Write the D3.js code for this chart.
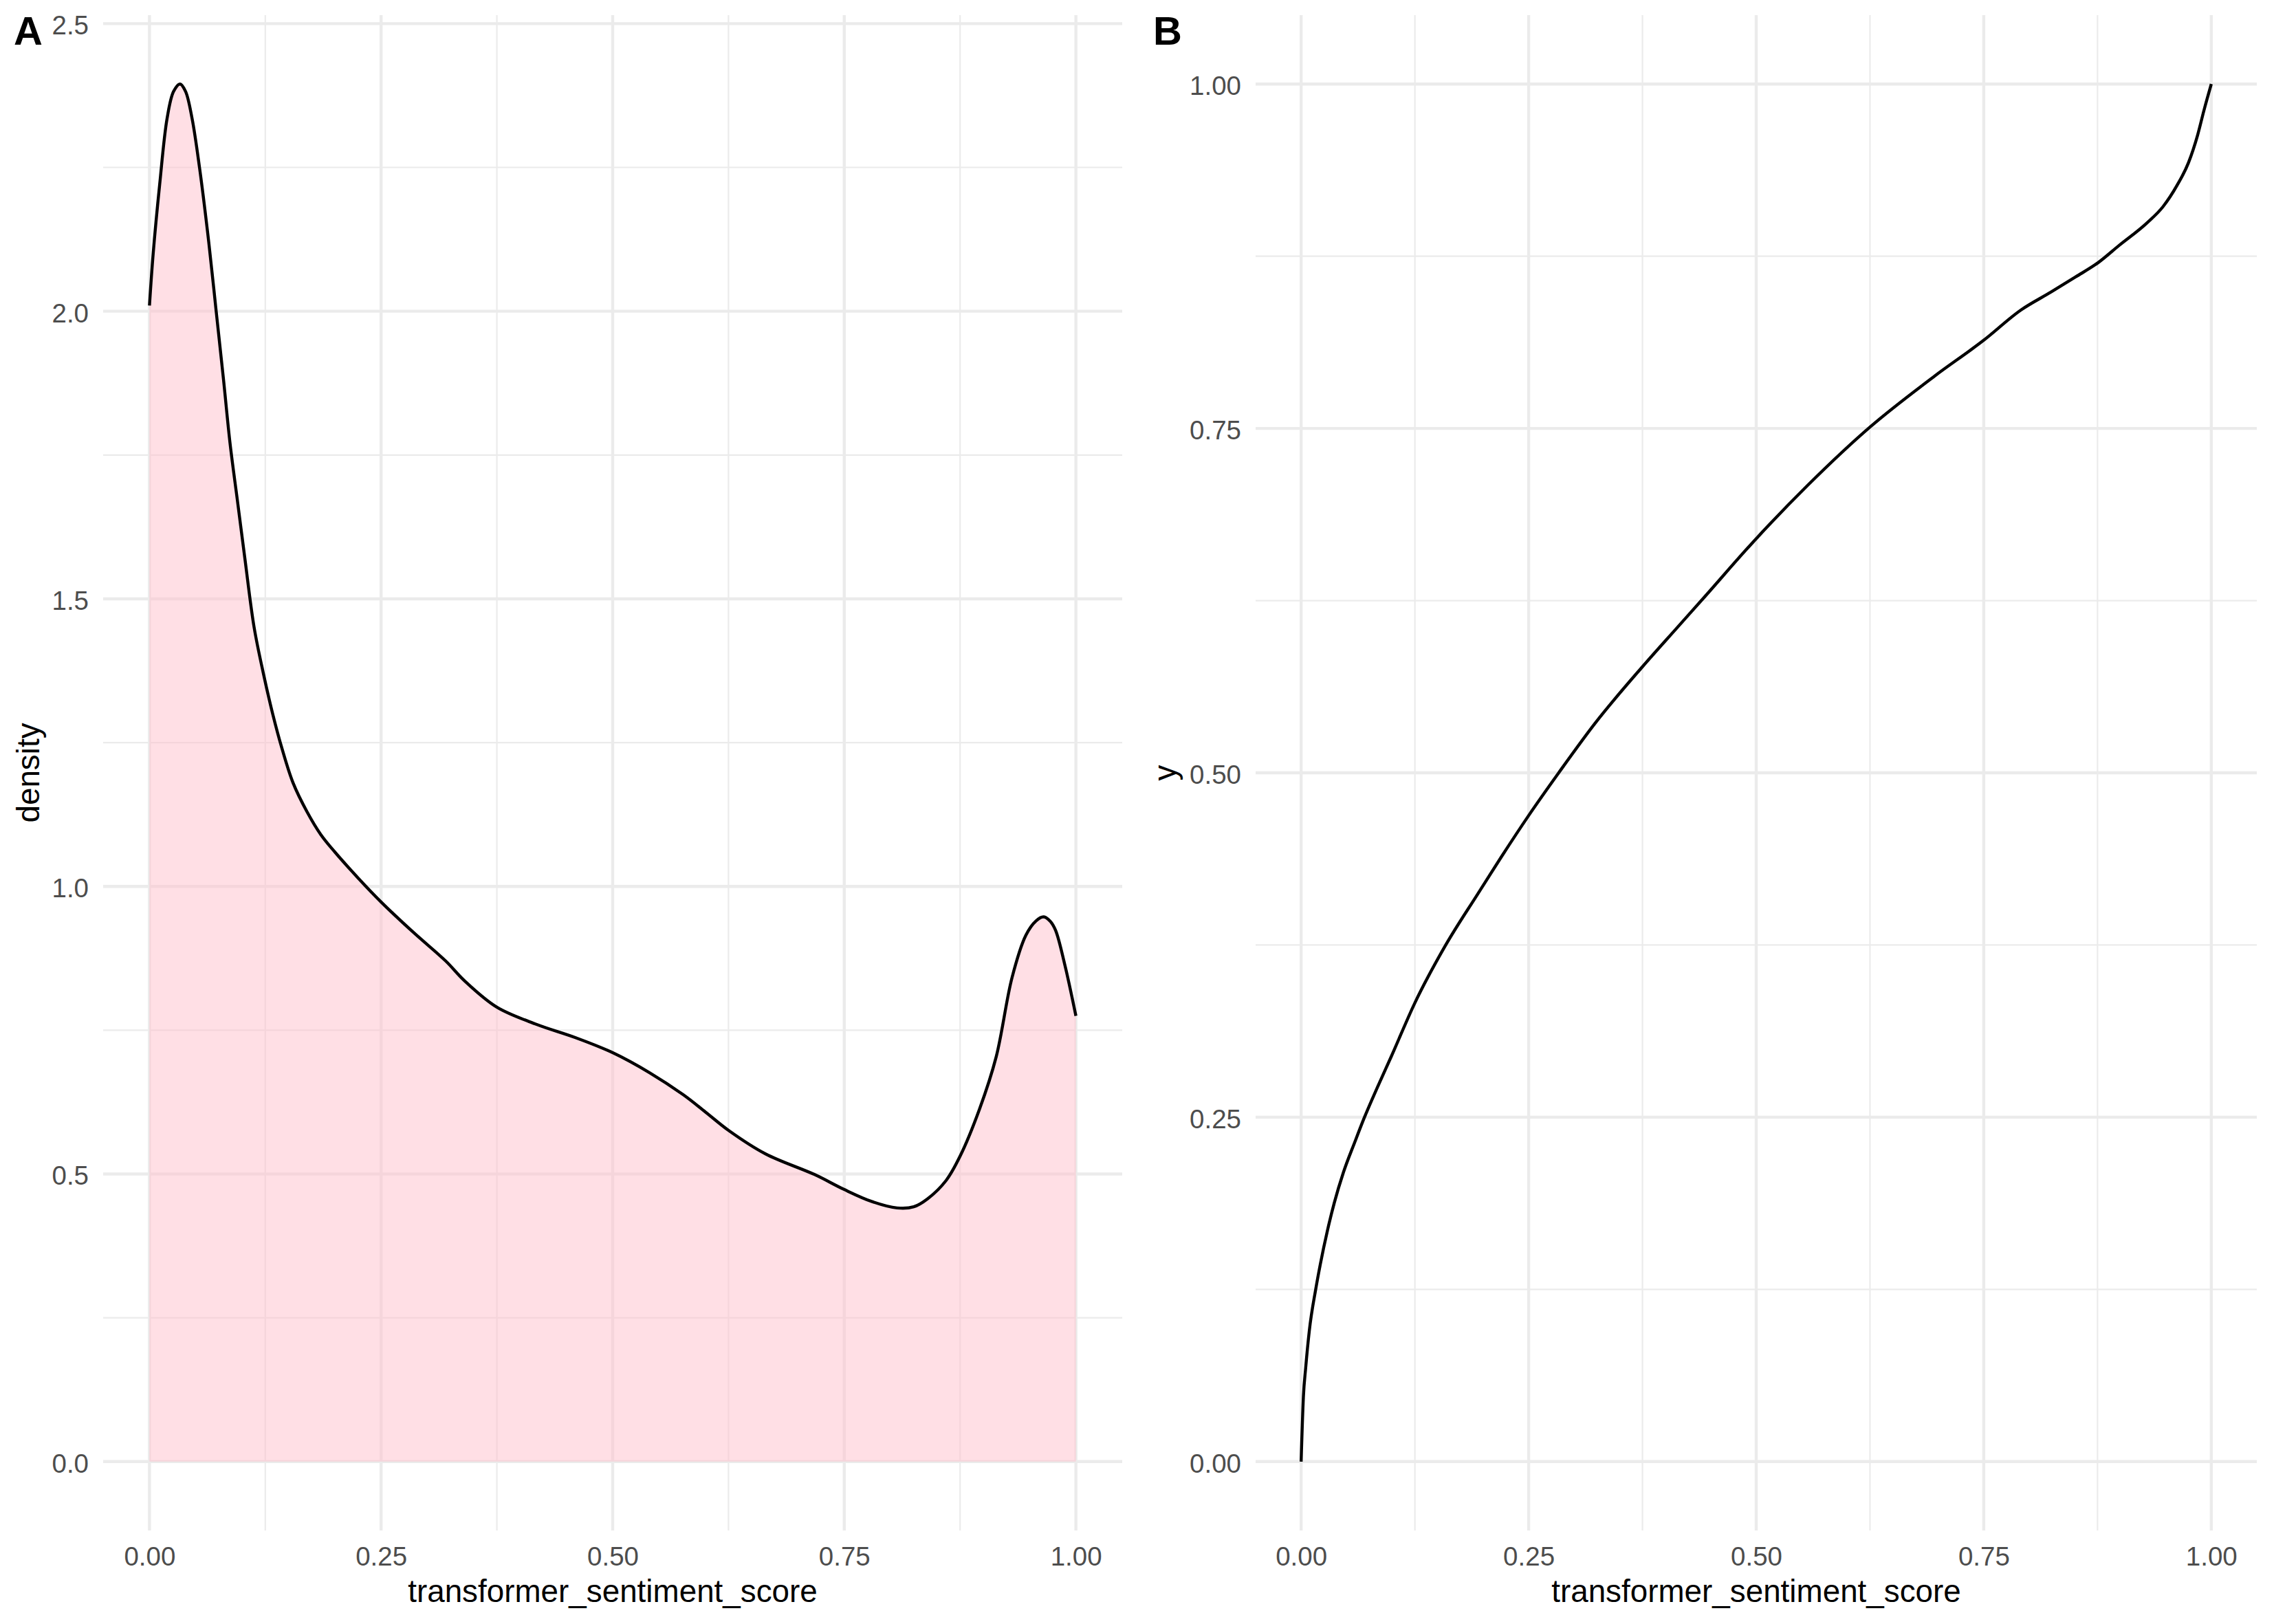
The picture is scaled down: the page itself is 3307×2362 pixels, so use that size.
<!DOCTYPE html>
<html>
<head>
<meta charset="utf-8">
<script src="https://cdn.jsdelivr.net/npm/d3@7"></script>
<style>
  body { margin: 0; background: #fff; }
  svg { display: block; }
</style>
</head>
<body>
<div id="chart"></div>
<script>
// data
// panel A: kernel density of the score
const densX = [0, 0.004, 0.011, 0.019, 0.026, 0.033, 0.039, 0.046, 0.054, 0.064, 0.072, 0.08, 0.087, 0.095,
  0.103, 0.113, 0.123, 0.133, 0.143, 0.155, 0.17, 0.185, 0.2, 0.225, 0.25, 0.285, 0.32, 0.34, 0.375, 0.418,
  0.46, 0.5, 0.54, 0.576, 0.6, 0.625, 0.665, 0.718, 0.75, 0.78, 0.807, 0.825, 0.84, 0.86, 0.875, 0.896,
  0.914, 0.931, 0.946, 0.957, 0.965, 0.972, 0.978, 0.988, 1.0];
const densY = [2.01, 2.10, 2.22, 2.335, 2.382, 2.395, 2.382, 2.335, 2.25, 2.12, 2.0, 1.88, 1.77, 1.67,
  1.57, 1.45, 1.37, 1.30, 1.24, 1.18, 1.13, 1.09, 1.06, 1.015, 0.973, 0.92, 0.87, 0.836, 0.79, 0.76,
  0.737, 0.711, 0.676, 0.638, 0.608, 0.576, 0.535, 0.499, 0.473, 0.452, 0.441, 0.443, 0.457, 0.489, 0.531, 0.613,
  0.704, 0.841, 0.915, 0.94, 0.947, 0.94, 0.924, 0.864, 0.775];

// panel B: cumulative curve
const cumX = [0, 0.0025, 0.005, 0.009, 0.016, 0.021, 0.029, 0.0365, 0.0465, 0.059, 0.069, 0.084, 0.099, 0.125,
  0.158, 0.194, 0.22, 0.25, 0.283, 0.323, 0.375, 0.414, 0.441, 0.5, 0.557, 0.625, 0.696, 0.75, 0.791, 0.824,
  0.851, 0.875, 0.899, 0.929, 0.947, 0.962, 0.975, 0.985, 0.992, 1.0];
const cumY = [0, 0.047, 0.068, 0.095, 0.125, 0.143, 0.168, 0.188, 0.21, 0.232, 0.249, 0.272, 0.294, 0.333,
  0.374, 0.412, 0.439, 0.469, 0.5, 0.536, 0.577, 0.606, 0.626, 0.67, 0.709, 0.751, 0.788, 0.814, 0.836, 0.849,
  0.86, 0.87, 0.883, 0.899, 0.911, 0.926, 0.943, 0.963, 0.981, 1.0];

const xTicks = [0, 0.25, 0.5, 0.75, 1];
const xMinor = [0.125, 0.375, 0.625, 0.875];
const yTicksA = [0, 0.5, 1, 1.5, 2, 2.5];
const yMinorA = [0.25, 0.75, 1.25, 1.75, 2.25];
const yTicksB = [0, 0.25, 0.5, 0.75, 1];
const yMinorB = [0.125, 0.375, 0.625, 0.875];

const width = 3307;
const height = 2362;

const svg = d3.select("#chart").append("svg")
  .attr("width", width)
  .attr("height", height);

const fontFam = "'Liberation Sans', Arial, sans-serif";
const gridCol = "#EBEBEB";

// ggplot-like expansion (5% each side)
function expand(lo, hi) {
  const r = hi - lo;
  return [lo - 0.05 * r, hi + 0.05 * r];
}

const panelTop = 22;
const panelBottom = 2226;

function drawGrid(g, x, y, xMaj, xMin, yMaj, yMin) {
  const [x0, x1] = x.range();
  const [y0, y1] = y.range();
  g.append("g").selectAll("line").data(yMin).enter().append("line")
    .attr("x1", x0).attr("x2", x1)
    .attr("y1", d => y(d)).attr("y2", d => y(d))
    .attr("stroke", gridCol).attr("stroke-width", 2.2);
  g.append("g").selectAll("line").data(xMin).enter().append("line")
    .attr("y1", y0).attr("y2", y1)
    .attr("x1", d => x(d)).attr("x2", d => x(d))
    .attr("stroke", gridCol).attr("stroke-width", 2.2);
  g.append("g").selectAll("line").data(yMaj).enter().append("line")
    .attr("x1", x0).attr("x2", x1)
    .attr("y1", d => y(d)).attr("y2", d => y(d))
    .attr("stroke", gridCol).attr("stroke-width", 4.4);
  g.append("g").selectAll("line").data(xMaj).enter().append("line")
    .attr("y1", y0).attr("y2", y1)
    .attr("x1", d => x(d)).attr("x2", d => x(d))
    .attr("stroke", gridCol).attr("stroke-width", 4.4);
}

function drawAxes(g, x, y, xMaj, yMaj, yFmt, yTitle, yTitleX) {
  const xAxisG = g.append("g")
    .attr("transform", `translate(0,${panelBottom})`)
    .call(d3.axisBottom(x).tickValues(xMaj).tickFormat(d3.format(".2f")).tickSize(0).tickPadding(24));
  const yAxisG = g.append("g")
    .attr("transform", `translate(${x.range()[0]},0)`)
    .call(d3.axisLeft(y).tickValues(yMaj).tickFormat(d3.format(yFmt)).tickSize(0).tickPadding(21));
  [xAxisG, yAxisG].forEach(a => {
    a.select(".domain").remove();
    a.attr("font-family", fontFam).attr("font-size", 38.5);
    a.selectAll("text").attr("fill", "#4D4D4D");
  });
  yAxisG.selectAll("text").attr("dy", "0.4em");

  const [xa, xb] = x.range();
  g.append("text")
    .attr("x", (xa + xb) / 2)
    .attr("y", 2330)
    .attr("text-anchor", "middle")
    .attr("font-family", fontFam)
    .attr("font-size", 45.8)
    .text("transformer_sentiment_score");

  g.append("text")
    .attr("transform", `translate(${yTitleX},${(panelTop + panelBottom) / 2}) rotate(-90)`)
    .attr("text-anchor", "middle")
    .attr("font-family", fontFam)
    .attr("font-size", 45.8)
    .text(yTitle);
}

// ---------- panel A ----------
const xA = d3.scaleLinear().domain(expand(0, 1)).range([150, 1632]);
const yA = d3.scaleLinear().domain(expand(0, d3.max(densY))).range([panelBottom, panelTop]);

const gA = svg.append("g");
drawGrid(gA, xA, yA, xTicks, xMinor, yTicksA, yMinorA);

const densData = densX.map((v, i) => ({x: v, y: densY[i]}));

gA.append("path")
  .datum(densData)
  .attr("fill", "pink")
  .attr("fill-opacity", 0.5)
  .attr("d", d3.area()
    .x(d => xA(d.x))
    .y0(yA(0))
    .y1(d => yA(d.y))
    .curve(d3.curveCatmullRom));

gA.append("path")
  .datum(densData)
  .attr("fill", "none")
  .attr("stroke", "black")
  .attr("stroke-width", 4.4)
  .attr("d", d3.line()
    .x(d => xA(d.x))
    .y(d => yA(d.y))
    .curve(d3.curveCatmullRom));

drawAxes(gA, xA, yA, xTicks, yTicksA, ".1f", "density", 57);

// ---------- panel B ----------
const xB = d3.scaleLinear().domain(expand(0, 1)).range([1826, 3282]);
const yB = d3.scaleLinear().domain(expand(0, 1)).range([panelBottom, panelTop]);

const gB = svg.append("g");
drawGrid(gB, xB, yB, xTicks, xMinor, yTicksB, yMinorB);

const cumData = cumX.map((v, i) => ({x: v, y: cumY[i]}));

gB.append("path")
  .datum(cumData)
  .attr("fill", "none")
  .attr("stroke", "black")
  .attr("stroke-width", 4.4)
  .attr("d", d3.line()
    .x(d => xB(d.x))
    .y(d => yB(d.y))
    .curve(d3.curveMonotoneX));

drawAxes(gB, xB, yB, xTicks, yTicksB, ".2f", "y", 1710);

// panel tags
svg.append("text")
  .attr("x", 20).attr("y", 65)
  .attr("font-family", fontFam).attr("font-weight", "bold").attr("font-size", 58)
  .text("A");
svg.append("text")
  .attr("x", 1677).attr("y", 65)
  .attr("font-family", fontFam).attr("font-weight", "bold").attr("font-size", 58)
  .text("B");
</script>
</body>
</html>
